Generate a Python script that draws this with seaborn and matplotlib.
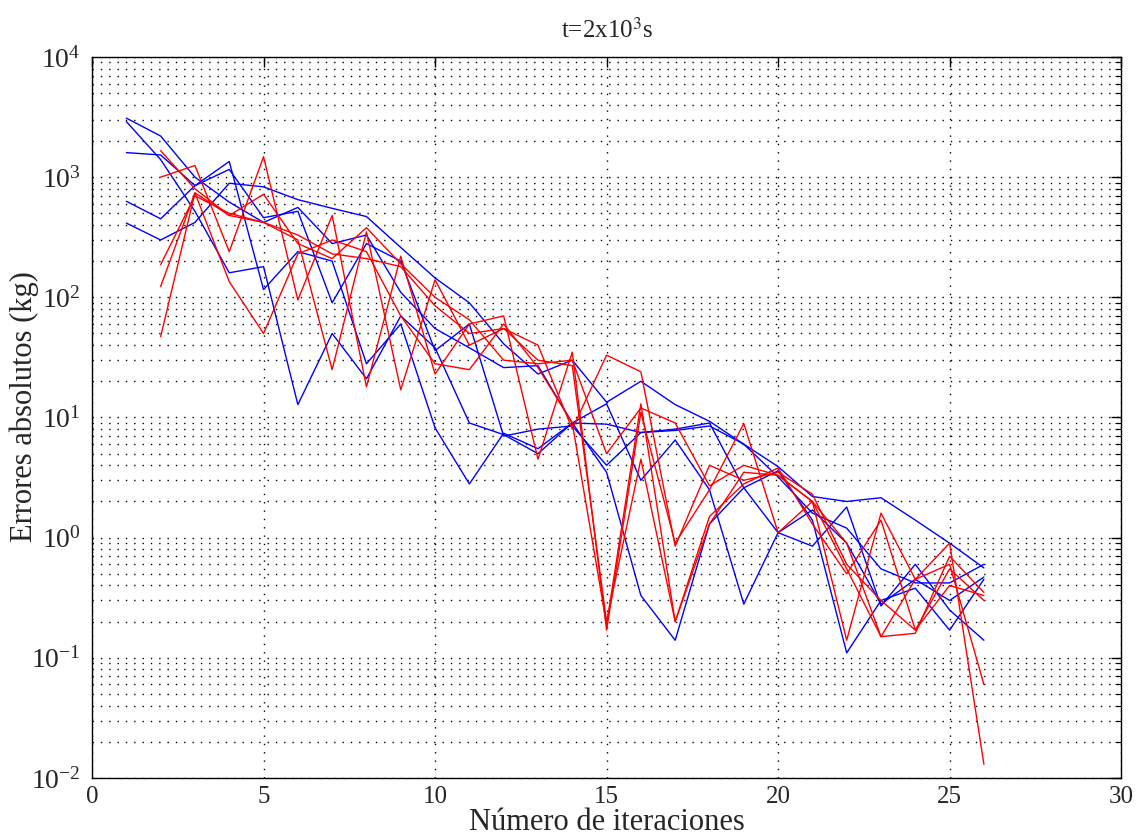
import matplotlib
matplotlib.use("Agg")
import matplotlib.pyplot as plt
import seaborn as sns
import numpy as np
import pandas as pd
from matplotlib.ticker import LogLocator, MultipleLocator, NullFormatter

# -------------------------------
# Data
# -------------------------------
iter_blue = list(range(1, 27))
iter_red = list(range(2, 27))

blue_1 = [3100, 2200, 1000, 620, 420, 560, 280, 330, 110, 55, 38, 26, 27, 9.0, 8.8, 7.5, 8.0, 9.0, 2.6, 1.1, 1.7, 0.9, 0.28, 0.45, 0.30, 0.47]
blue_2 = [2900, 1400, 520, 160, 180, 12.8, 50, 21, 70, 38, 9.0, 7.2, 5.0, 9.0, 3.5, 0.33, 0.14, 1.3, 2.6, 3.6, 1.4, 0.11, 0.30, 0.38, 0.17, 0.45]
blue_3 = [1600, 1530, 850, 1350, 116, 240, 200, 28, 60, 8.2, 2.8, 7.4, 5.5, 9.0, 13.0, 3.0, 6.5, 2.5, 0.28, 1.1, 0.85, 1.8, 0.27, 0.6, 0.25, 0.14]
blue_4 = [630, 450, 850, 1160, 460, 520, 90, 280, 200, 36, 60, 7.0, 8.0, 8.5, 4.0, 7.5, 7.8, 8.5, 6.0, 3.2, 1.6, 1.2, 0.55, 0.42, 0.42, 0.60]
blue_5 = [415, 300, 420, 890, 830, 650, 550, 470, 260, 145, 90, 41, 23, 30, 13.4, 20, 12.8, 9.3, 6.0, 3.9, 2.2, 2.0, 2.15, 1.4, 0.9, 0.56]

red_1 = [1660, 800, 480, 420, 330, 230, 210, 180, 85, 50, 55, 30, 27, 0.20, 4.5, 0.20, 1.3, 3.5, 3.3, 2.0, 0.55, 0.15, 0.16, 0.70, 0.35]
red_2 = [1000, 1250, 240, 1480, 95, 480, 18, 220, 23, 60, 70, 4.5, 35, 0.17, 11, 0.90, 2.5, 8.9, 1.1, 2.0, 0.14, 1.6, 0.45, 0.90, 0.013]
red_3 = [187, 700, 500, 420, 300, 25, 350, 17, 140, 40, 55, 40, 8.0, 33, 24, 0.85, 4.0, 3.0, 3.5, 2.3, 0.60, 0.30, 0.17, 0.55, 0.30]
red_4 = [123, 740, 480, 720, 280, 210, 380, 190, 100, 65, 30, 28, 30, 5.0, 12, 9.0, 2.7, 4.0, 3.3, 2.0, 0.90, 0.15, 0.45, 0.60, 0.06]
red_5 = [47, 740, 135, 50, 230, 300, 240, 70, 28, 25, 60, 26, 9.0, 0.19, 13, 0.20, 1.5, 2.8, 3.8, 1.3, 0.50, 1.4, 0.17, 0.40, 0.33]

blue_runs = [blue_1, blue_2, blue_3, blue_4, blue_5]
red_runs = [red_1, red_2, red_3, red_4, red_5]

# long table for seaborn
rows = []
for k, vals in enumerate(blue_runs):
    for it, v in zip(iter_blue, vals):
        rows.append({"iter": it, "error": v, "run": f"b{k}", "grupo": "azul"})
for k, vals in enumerate(red_runs):
    for it, v in zip(iter_red, vals):
        rows.append({"iter": it, "error": v, "run": f"r{k}", "grupo": "rojo"})
df = pd.DataFrame(rows)

# -------------------------------
# Style (MATLAB look)
# -------------------------------
sns.set_style("white")
plt.rcParams["font.family"] = ["Liberation Serif", "DejaVu Serif"]
plt.rcParams["mathtext.fontset"] = "stix"

fig = plt.figure(figsize=(11.39, 8.38), dpi=100)
ax = fig.add_axes([0.0808, 0.0716, 0.9035, 0.8604])

sns.lineplot(
    data=df, x="iter", y="error", hue="grupo", units="run",
    estimator=None, sort=False,
    palette={"azul": "#0000ff", "rojo": "#ff0000"},
    linewidth=1.0, legend=False, ax=ax
)

ax.set_yscale("log")
ax.set_xlim(0, 30)
ax.set_ylim(1e-2, 1e4)

ax.xaxis.set_major_locator(MultipleLocator(5))
ax.yaxis.set_major_locator(LogLocator(base=10, numticks=10))
ax.yaxis.set_minor_locator(LogLocator(base=10, subs=np.arange(2, 10), numticks=20))
ax.yaxis.set_minor_formatter(NullFormatter())

dots = (0, (1, 5))
ax.grid(True, which="major", axis="both", color="black", linestyle=dots, linewidth=1.0)
ax.grid(True, which="minor", axis="y", color="black", linestyle=dots, linewidth=1.0)
ax.set_axisbelow(True)

ax.tick_params(axis="both", which="both", direction="in", top=True, right=True,
               color="black")
ax.tick_params(axis="x", labelsize=18, pad=6)
ax.tick_params(axis="y", labelsize=20, pad=8)
ax.tick_params(which="major", length=7, width=1.0)
ax.tick_params(which="minor", length=4, width=0.8)

for s in ax.spines.values():
    s.set_color("black")
    s.set_linewidth(1.0)

ax.set_title(r"t=2x10$^3$s", fontsize=18, pad=14)
ax.set_xlabel("Número de iteraciones", fontsize=22, labelpad=0)
ax.set_ylabel("Errores absolutos (kg)", fontsize=22)
ax.yaxis.set_label_coords(-0.052, 0.515)

fig.savefig("out.png", dpi=100, facecolor="white")
plt.close(fig)
